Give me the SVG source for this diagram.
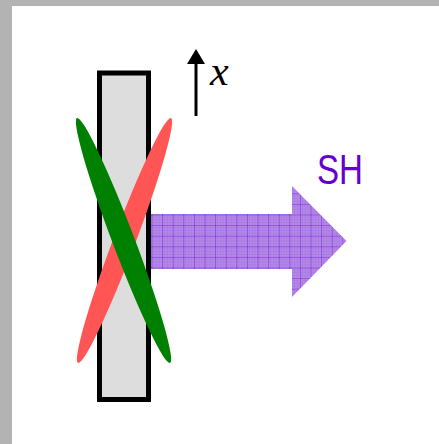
<svg xmlns="http://www.w3.org/2000/svg" width="439" height="444" viewBox="0 0 439 444">
<defs>
<pattern id="grid" patternUnits="userSpaceOnUse" x="151.5" y="214.5" width="10.6" height="10.6">
<rect width="10.6" height="10.6" fill="#b68ce8"/>
<path d="M0,0 H10.6 M0,0 V10.6" stroke="#6a14d0" stroke-width="1" fill="none"/>
<path d="M0,2.65 H10.6 M0,5.3 H10.6 M0,7.95 H10.6 M2.65,0 V10.6 M5.3,0 V10.6 M7.95,0 V10.6" stroke="#9a62e0" stroke-width="0.6" fill="none" opacity="0.6"/>
</pattern>
<marker id="ah" markerWidth="5" markerHeight="6" refX="0" refY="3" orient="auto" markerUnits="strokeWidth">
<path d="M0,0 L5,3 L0,6 Z" fill="#000"/>
</marker>
<style>
.lbl{font-family:"Liberation Sans","Open Sans",sans-serif;}
</style>
</defs>
<rect x="0" y="0" width="439" height="444" fill="#b3b3b3"/>
<rect x="12" y="6" width="427" height="438" fill="#ffffff"/>
<g id="plate">
<rect x="99.5" y="73" width="49" height="326.5" fill="#dddddd" stroke="#000" stroke-width="5"/>
</g>
<g id="sh-arrow">
<path d="M151,214 H292 V186 L346.5,241 L292,297 V269 H151 Z" fill="url(#grid)"/>
</g>
<g id="red-ellipse">
<ellipse cx="124.5" cy="240.5" rx="11" ry="131" transform="rotate(20.8 124.5 240.5)" fill="#ff5555"/>
</g>
<g id="green-ellipse">
<ellipse cx="123.5" cy="240.5" rx="11" ry="131" transform="rotate(-20.8 123.5 240.5)" fill="#008000"/>
</g>
<g id="connectors">
<line x1="196" y1="116" x2="196" y2="64" stroke="#000" stroke-width="3" marker-end="url(#ah)"/>
</g>
<g id="x-label">
<text x="210" y="85" font-family="'Liberation Serif',serif" font-style="italic" font-size="42" fill="#000">x</text>
</g>
<g id="sh-label">
<text class="lbl" x="317" y="183.5" font-size="42" textLength="46" lengthAdjust="spacingAndGlyphs" fill="#6600cc">SH</text>
</g>
</svg>
